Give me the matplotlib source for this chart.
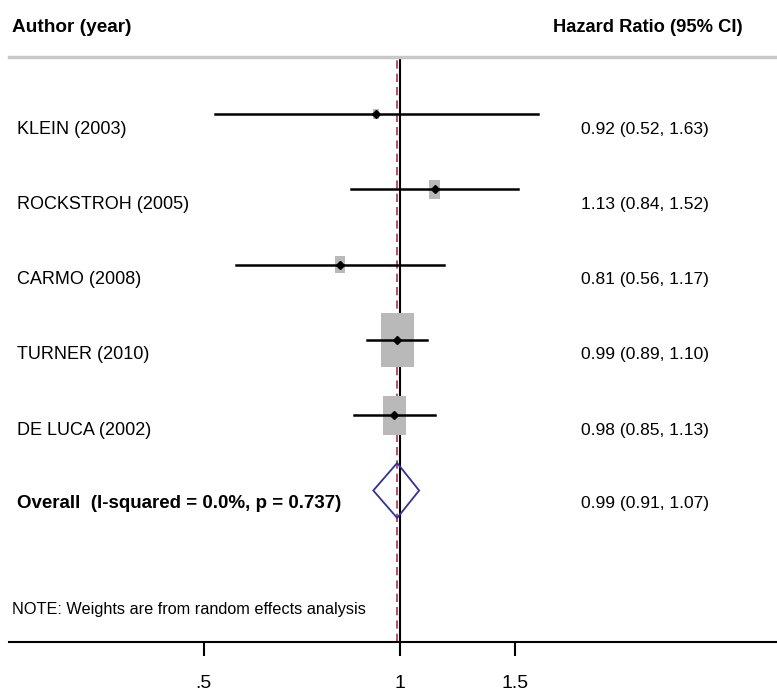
import numpy as np
import matplotlib
matplotlib.use("Agg")
import matplotlib.pyplot as plt
from matplotlib.patches import Rectangle, Polygon

plt.rcParams['font.family'] = ['Liberation Sans', 'DejaVu Sans']

# study data (hazard ratios with 95% CI)
studies = ['KLEIN (2003)', 'ROCKSTROH (2005)', 'CARMO (2008)',
           'TURNER (2010)', 'DE LUCA (2002)']
hr = [0.92, 1.13, 0.81, 0.99, 0.98]
lower = [0.52, 0.84, 0.56, 0.89, 0.85]
upper = [1.63, 1.52, 1.17, 1.10, 1.13]
weights = [1.9, 6.9, 5.4, 57.1, 28.7]  # random effects weights (%)

overall_label = 'Overall  (I-squared = 0.0%, p = 0.737)'
overall_hr = 0.99
overall_lower = 0.91
overall_upper = 1.07

xticks = [0.5, 1, 1.5]
xticklabels = ['.5', '1', '1.5']

fig = plt.figure(figsize=(7.77, 6.91), dpi=100)
ax = fig.add_axes([9 / 777, 49 / 691, 768 / 777, 585 / 691])
ax.set_xscale('log')
ax.set_xlim(0.2512, 3.789)
ax.set_ylim(7.012, -0.757)

# reference lines
ax.axvline(1, color='black', lw=1.5, zorder=1)
ax.axvline(overall_hr, color='#a8324f', lw=1.2, ls=(0, (5, 3)), zorder=1)

px_per_ln = 283.0   # pixels per natural-log unit on x
px_per_row = 75.3   # pixels per row on y
yt = ax.get_yaxis_transform()

for i, (name, est, lo, hi, w) in enumerate(zip(studies, hr, lower, upper, weights)):
    side = 4.37 * np.sqrt(w)
    hw = side / 2 / px_per_ln
    hh = 1.65 * side / 2 / px_per_row
    ax.add_patch(Rectangle((est * np.exp(-hw), i - hh), est * np.exp(hw) - est * np.exp(-hw),
                           2 * hh, facecolor='#b9b9b9', edgecolor='none', zorder=2))
    ax.plot([lo, hi], [i, i], color='black', lw=1.8, zorder=3)
    ax.plot([est], [i], marker='D', color='black', markersize=4.5, zorder=4)
    ax.text(0.0104, i + 0.2, name, transform=yt, fontsize=13, va='center', ha='left')
    ax.text(0.745, i + 0.2, f'{est:.2f} ({lo:.2f}, {hi:.2f})',
            transform=yt, fontsize=12.5, va='center', ha='left')

# overall diamond
row = len(studies)
dh = 0.365
ax.add_patch(Polygon([(overall_lower, row), (overall_hr, row - dh),
                      (overall_upper, row), (overall_hr, row + dh)],
                     closed=True, fill=False, edgecolor='#33338f', lw=1.3, zorder=3))
ax.text(0.0104, row + 0.17, overall_label, transform=yt,
        fontsize=13.5, fontweight='bold', va='center', ha='left')
ax.text(0.745, row + 0.17, f'{overall_hr:.2f} ({overall_lower:.2f}, {overall_upper:.2f})',
        transform=yt, fontsize=12.5, va='center', ha='left')

ax.text(0.004, 6.587, 'NOTE: Weights are from random effects analysis',
        transform=yt, fontsize=11.7, va='center', ha='left')

# headers
fig.text(12 / 777, 1 - 28 / 691, 'Author (year)', fontsize=13.7, fontweight='bold',
         va='center', ha='left')
fig.text(743 / 777, 1 - 28 / 691, 'Hazard Ratio (95% CI)', fontsize=13.2, fontweight='bold',
         va='center', ha='right')

# axis styling
ax.set_xticks(xticks)
ax.set_xticklabels(xticklabels, fontsize=14)
ax.xaxis.set_minor_locator(matplotlib.ticker.NullLocator())
ax.tick_params(axis='x', length=10, width=1.5, pad=14)
ax.set_yticks([])
ax.spines['left'].set_visible(False)
ax.spines['right'].set_visible(False)
ax.spines['bottom'].set_linewidth(1.5)
ax.spines['top'].set_color('#c8c8c8')
ax.spines['top'].set_linewidth(2.5)

fig.savefig('out.png', dpi=100)
